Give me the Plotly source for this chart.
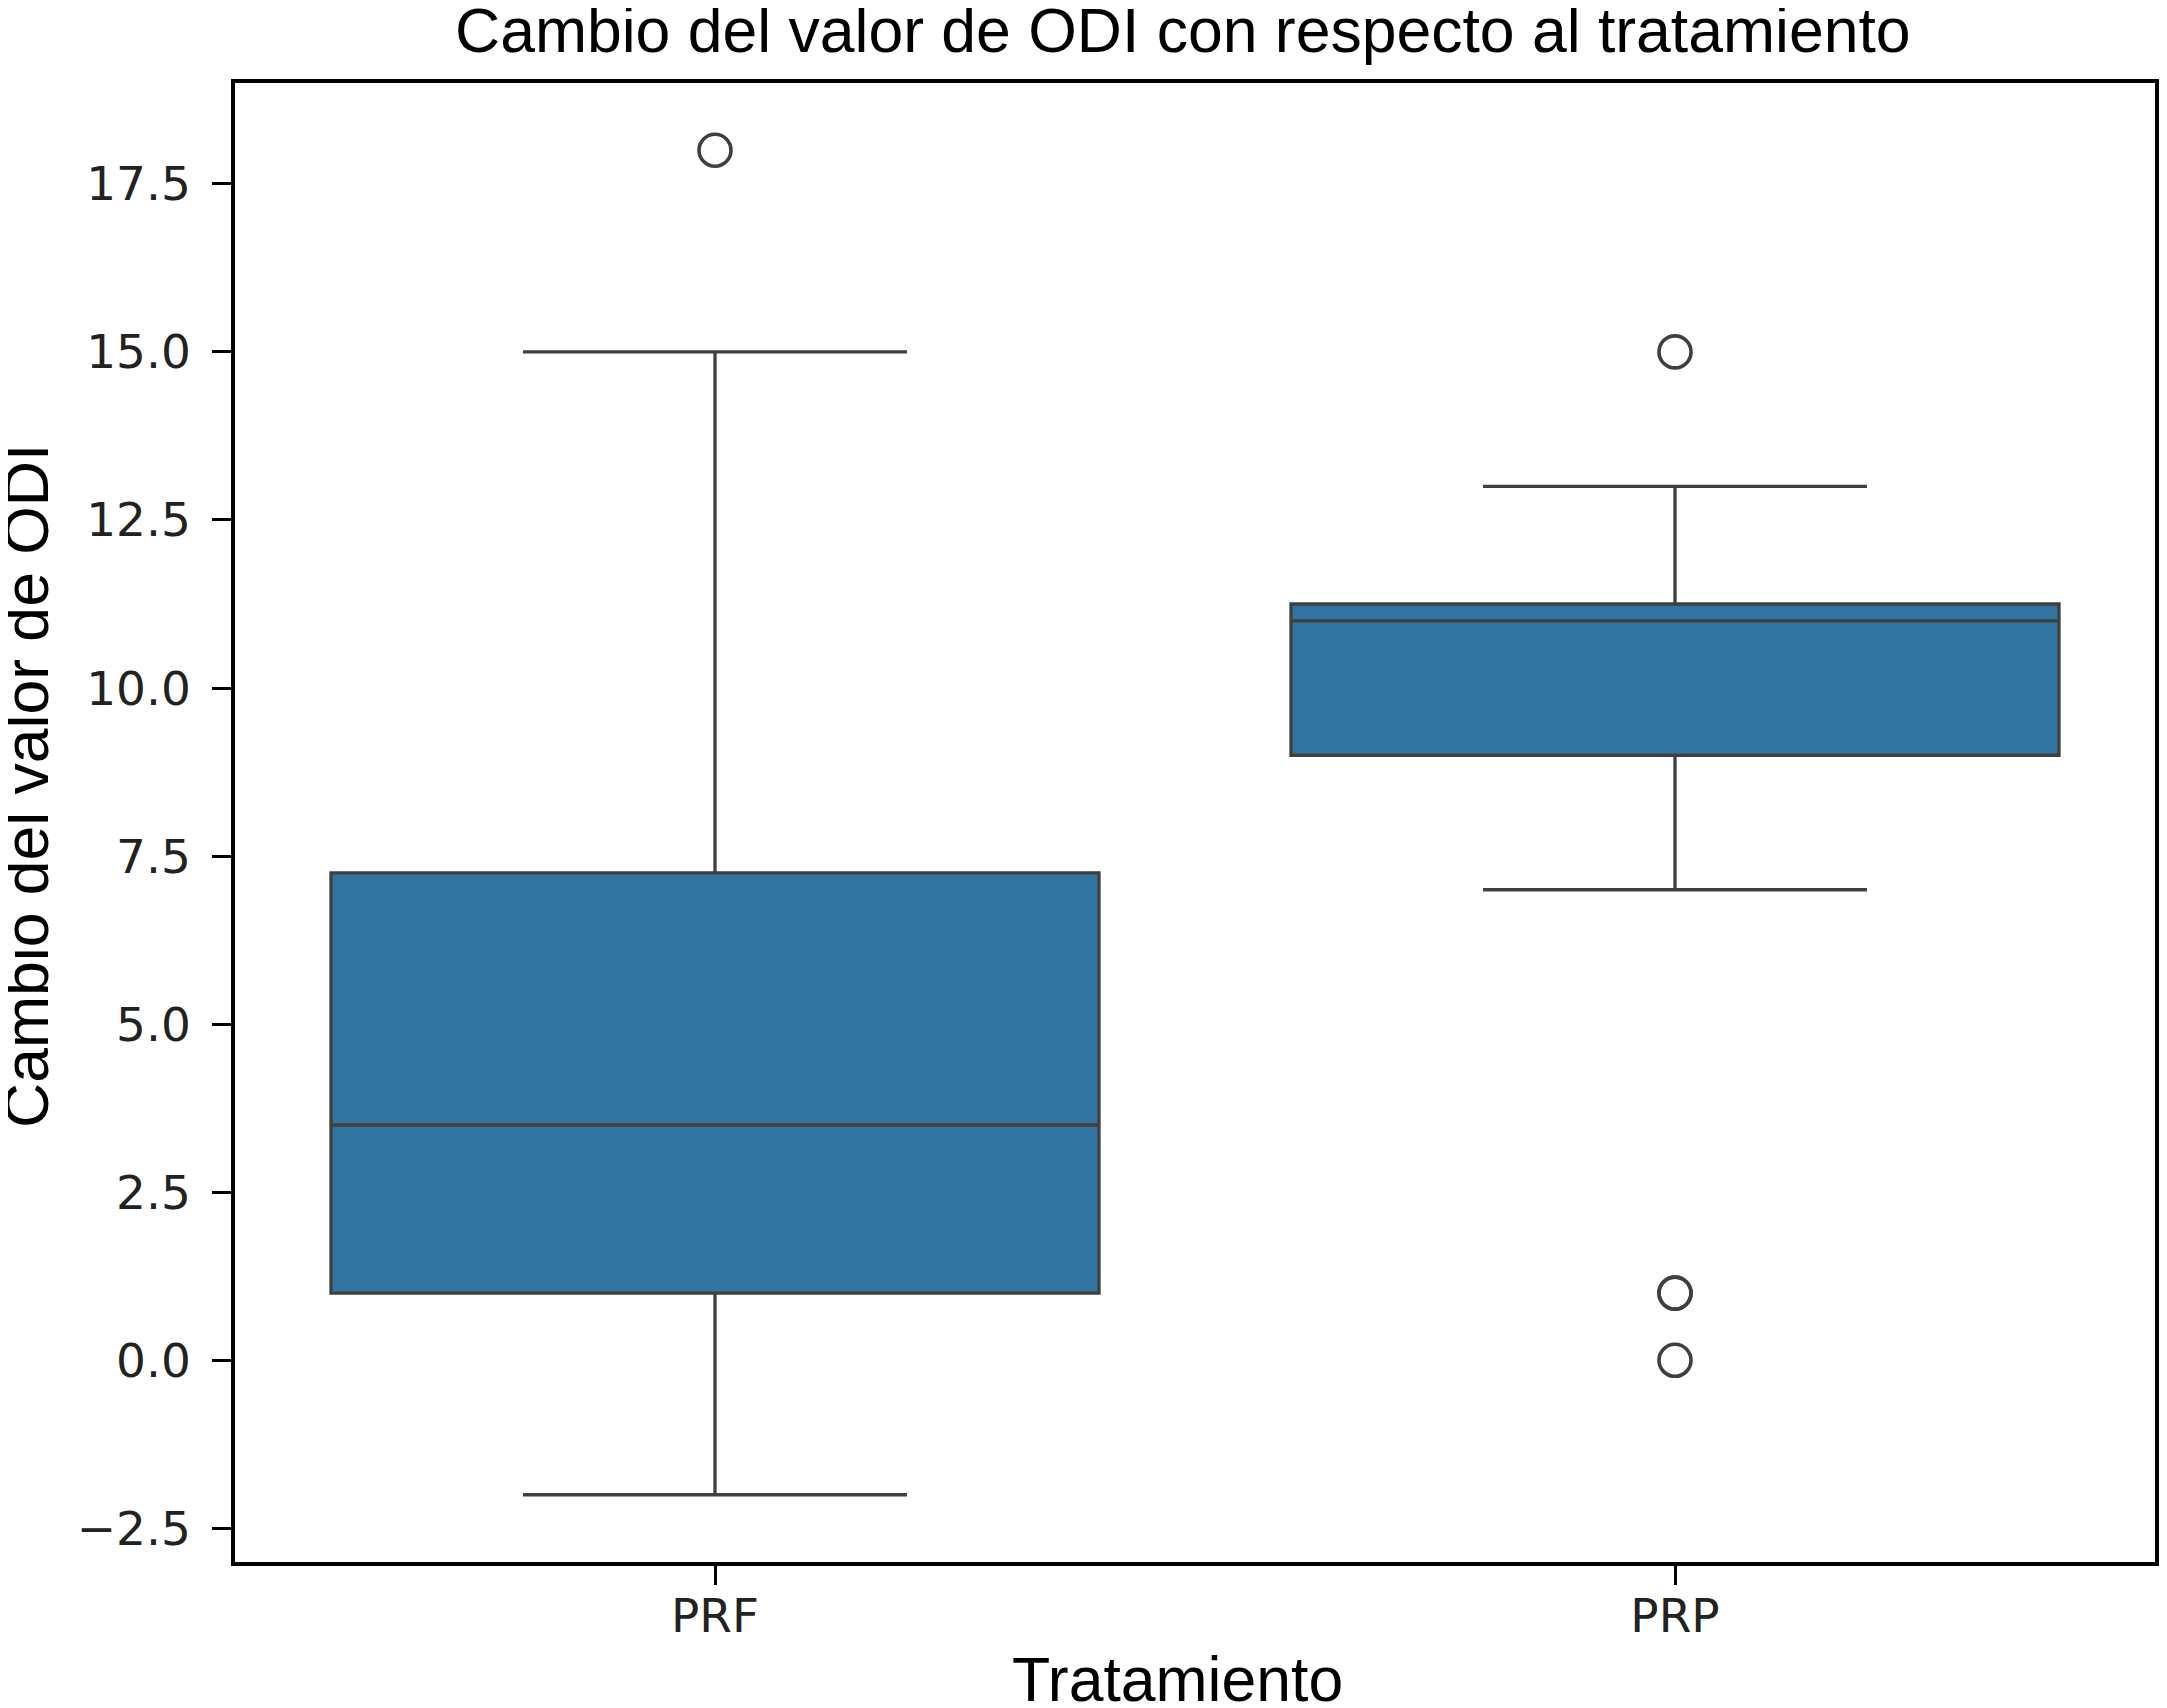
import plotly.graph_objects as go

categories = ["PRF", "PRP"]
q1 = [1.0, 9.0]
median = [3.5, 11.0]
q3 = [7.25, 11.25]
lower_fence = [-2.0, 7.0]
upper_fence = [15.0, 13.0]
outlier_x = ["PRF", "PRP", "PRP", "PRP", "PRP"]
outlier_y = [18.0, 15.0, 1.0, 1.0, 0.0]
y_ticks = [-2.5, 0.0, 2.5, 5.0, 7.5, 10.0, 12.5, 15.0, 17.5]

# page body has an 8px default margin; compensate so the plot lands where intended
OFF = 8
W, H = 2167, 1708
L, R, T, B = 235, 2159, 83, 1562
pw, ph = R - L, B - T

line_col = "#3f3f3f"
fig = go.Figure()
fig.add_trace(go.Box(
    x=categories, q1=q1, median=median, q3=q3,
    lowerfence=lower_fence, upperfence=upper_fence,
    boxpoints=False, width=0.8, whiskerwidth=0.5,
    fillcolor="#3274a1", line=dict(color=line_col, width=3.3),
    showlegend=False, hoverinfo="skip",
))
fig.add_trace(go.Scatter(
    x=outlier_x, y=outlier_y, mode="markers",
    marker=dict(symbol="circle-open", size=32, color=line_col,
                line=dict(color=line_col, width=3.6)),
    showlegend=False, hoverinfo="skip",
))

title_font = dict(family="Liberation Sans, Arial, sans-serif", size=62.5, color="#000000")
tick_font = dict(family="DejaVu Sans, sans-serif", size=47, color="#222222")

fig.update_layout(
    width=W - OFF, height=H - OFF,
    margin=dict(l=L - OFF, r=W - R, t=T - OFF, b=H - B, pad=0),
    paper_bgcolor="white", plot_bgcolor="white",
    annotations=[
        dict(text="Cambio del valor de ODI con respecto al tratamiento",
             xref="paper", yref="paper", x=0.494, y=(B - 30) / ph,
             xanchor="center", yanchor="middle", showarrow=False, font=title_font),
        dict(text="Tratamiento", xref="paper", yref="paper", x=0.491,
             y=(B - 1679) / ph, xanchor="center", yanchor="middle",
             showarrow=False, font=title_font),
        dict(text="Cambio del valor de ODI", xref="paper", yref="paper",
             x=(25 - L) / pw, y=0.525, xanchor="center", yanchor="middle",
             textangle=-90, showarrow=False, font=title_font),
    ],
)
fig.update_xaxes(
    type="category", categoryorder="array", categoryarray=categories,
    range=[-0.5, 1.5], showgrid=False, zeroline=False,
    showline=True, linecolor="#000000", linewidth=3.5, mirror=True,
    ticks="outside", ticklen=19, tickwidth=2.8, tickcolor="#000000",
    tickfont=tick_font, ticklabelstandoff=-9,
)
fig.update_yaxes(
    range=[-3.0, 19.0], tickmode="array", tickvals=y_ticks,
    ticktext=[("\u2212" if v < 0 else "") + f"{abs(v):.1f}" for v in y_ticks],
    showgrid=False, zeroline=False,
    showline=True, linecolor="#000000", linewidth=3.5, mirror=True,
    ticks="outside", ticklen=19, tickwidth=2.8, tickcolor="#000000",
    tickfont=tick_font, ticklabelstandoff=12,
)
fig.write_html("out.html")
